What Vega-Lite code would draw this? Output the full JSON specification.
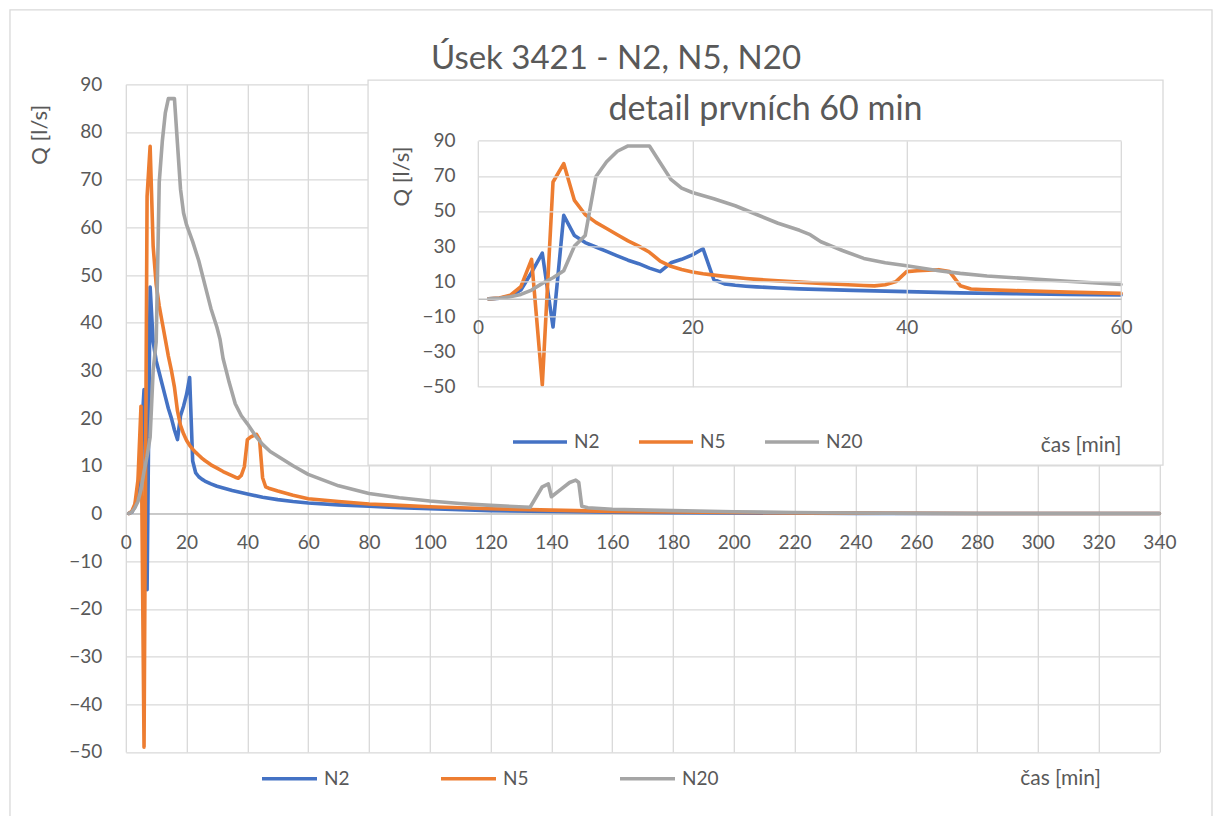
{
  "$schema": "https://vega.github.io/schema/vega-lite/v6.json",
  "width": 1033.6,
  "height": 667.6,
  "autosize": {"type": "none"},
  "padding": {"left": 125.8, "top": 84.3, "right": 59.6, "bottom": 64.1},
  "background": "white",
  "title": {"text": "Úsek 3421 - N2, N5, N20", "font": "Lato", "fontSize": 33, "fontWeight": "normal", "color": "#595959", "anchor": "middle", "dx": -26.6, "offset": 0, "dy": 93, "baseline": "alphabetic"},
  "config": {"view": {"stroke": null}, "font": "Lato"},
  "datasets": {
    "q": [
      {"t":1,"s":"N2","q":0},{"t":2,"s":"N2","q":0.3},{"t":3,"s":"N2","q":1.5},{"t":4,"s":"N2","q":5},{"t":5,"s":"N2","q":15},{"t":6,"s":"N2","q":26},{"t":7,"s":"N2","q":-16},{"t":8,"s":"N2","q":47.5},{"t":9,"s":"N2","q":36},{"t":10,"s":"N2","q":32},{"t":11,"s":"N2","q":29.5},{"t":12,"s":"N2","q":27},{"t":13,"s":"N2","q":24.5},{"t":14,"s":"N2","q":22},{"t":15,"s":"N2","q":20},{"t":16,"s":"N2","q":17.5},{"t":17,"s":"N2","q":15.5},{"t":18,"s":"N2","q":20.5},{"t":19,"s":"N2","q":22.5},{"t":20,"s":"N2","q":25},{"t":21,"s":"N2","q":28.5},{"t":22,"s":"N2","q":11},{"t":23,"s":"N2","q":8.5},{"t":24,"s":"N2","q":7.7},{"t":25,"s":"N2","q":7.2},{"t":26,"s":"N2","q":6.8},{"t":28,"s":"N2","q":6.2},{"t":30,"s":"N2","q":5.7},{"t":35,"s":"N2","q":4.8},{"t":40,"s":"N2","q":4.1},{"t":45,"s":"N2","q":3.4},{"t":50,"s":"N2","q":2.9},{"t":55,"s":"N2","q":2.5},{"t":60,"s":"N2","q":2.2},{"t":70,"s":"N2","q":1.8},{"t":80,"s":"N2","q":1.5},{"t":90,"s":"N2","q":1.2},{"t":100,"s":"N2","q":1.0},{"t":120,"s":"N2","q":0.6},{"t":140,"s":"N2","q":0.4},{"t":160,"s":"N2","q":0.25},{"t":180,"s":"N2","q":0.15},{"t":200,"s":"N2","q":0.1},{"t":240,"s":"N2","q":0.03},{"t":280,"s":"N2","q":0},{"t":340,"s":"N2","q":0},
      {"t":1,"s":"N5","q":0},{"t":2,"s":"N5","q":0.5},{"t":3,"s":"N5","q":2},{"t":4,"s":"N5","q":7},{"t":5,"s":"N5","q":22.5},{"t":6,"s":"N5","q":-49},{"t":7,"s":"N5","q":66.5},{"t":8,"s":"N5","q":77},{"t":9,"s":"N5","q":56},{"t":10,"s":"N5","q":48},{"t":11,"s":"N5","q":43.5},{"t":12,"s":"N5","q":40},{"t":13,"s":"N5","q":36.5},{"t":14,"s":"N5","q":33},{"t":15,"s":"N5","q":30},{"t":16,"s":"N5","q":26.5},{"t":17,"s":"N5","q":21.5},{"t":18,"s":"N5","q":18.5},{"t":19,"s":"N5","q":16.7},{"t":20,"s":"N5","q":15.3},{"t":21,"s":"N5","q":14.3},{"t":22,"s":"N5","q":13.5},{"t":23,"s":"N5","q":12.8},{"t":24,"s":"N5","q":12.2},{"t":25,"s":"N5","q":11.6},{"t":26,"s":"N5","q":11.1},{"t":28,"s":"N5","q":10.2},{"t":30,"s":"N5","q":9.5},{"t":32,"s":"N5","q":8.8},{"t":34,"s":"N5","q":8.2},{"t":36,"s":"N5","q":7.6},{"t":37,"s":"N5","q":7.4},{"t":38,"s":"N5","q":8},{"t":39,"s":"N5","q":9.8},{"t":40,"s":"N5","q":15.5},{"t":41,"s":"N5","q":16},{"t":42,"s":"N5","q":16.3},{"t":43,"s":"N5","q":16.6},{"t":44,"s":"N5","q":15.5},{"t":45,"s":"N5","q":7.5},{"t":46,"s":"N5","q":5.6},{"t":47,"s":"N5","q":5.3},{"t":50,"s":"N5","q":4.7},{"t":55,"s":"N5","q":3.8},{"t":60,"s":"N5","q":3.1},{"t":70,"s":"N5","q":2.5},{"t":80,"s":"N5","q":2},{"t":90,"s":"N5","q":1.7},{"t":100,"s":"N5","q":1.4},{"t":120,"s":"N5","q":1.0},{"t":140,"s":"N5","q":0.7},{"t":160,"s":"N5","q":0.45},{"t":180,"s":"N5","q":0.3},{"t":200,"s":"N5","q":0.2},{"t":220,"s":"N5","q":0.12},{"t":250,"s":"N5","q":0.05},{"t":280,"s":"N5","q":0},{"t":340,"s":"N5","q":0},
      {"t":1,"s":"N20","q":0},{"t":2,"s":"N20","q":0.3},{"t":3,"s":"N20","q":1.2},{"t":4,"s":"N20","q":2.5},{"t":5,"s":"N20","q":5},{"t":6,"s":"N20","q":8.8},{"t":7,"s":"N20","q":12},{"t":8,"s":"N20","q":16},{"t":9,"s":"N20","q":30},{"t":10,"s":"N20","q":36},{"t":11,"s":"N20","q":69.5},{"t":12,"s":"N20","q":78},{"t":13,"s":"N20","q":84},{"t":14,"s":"N20","q":87},{"t":15,"s":"N20","q":87},{"t":16,"s":"N20","q":87},{"t":17,"s":"N20","q":77.5},{"t":18,"s":"N20","q":68},{"t":19,"s":"N20","q":63},{"t":20,"s":"N20","q":60.5},{"t":22,"s":"N20","q":57},{"t":24,"s":"N20","q":53},{"t":26,"s":"N20","q":48},{"t":28,"s":"N20","q":43},{"t":30,"s":"N20","q":39},{"t":31,"s":"N20","q":36.5},{"t":32,"s":"N20","q":32.5},{"t":33,"s":"N20","q":30},{"t":34,"s":"N20","q":27.5},{"t":36,"s":"N20","q":23},{"t":38,"s":"N20","q":20.5},{"t":40,"s":"N20","q":18.8},{"t":43,"s":"N20","q":16},{"t":45,"s":"N20","q":14.5},{"t":47.5,"s":"N20","q":13},{"t":50,"s":"N20","q":12},{"t":55,"s":"N20","q":10},{"t":60,"s":"N20","q":8.2},{"t":70,"s":"N20","q":5.8},{"t":80,"s":"N20","q":4.2},{"t":90,"s":"N20","q":3.3},{"t":100,"s":"N20","q":2.6},{"t":110,"s":"N20","q":2.1},{"t":120,"s":"N20","q":1.7},{"t":133,"s":"N20","q":1.3},{"t":137,"s":"N20","q":5.6},{"t":139,"s":"N20","q":6.2},{"t":140,"s":"N20","q":3.5},{"t":143,"s":"N20","q":5},{"t":146,"s":"N20","q":6.5},{"t":148,"s":"N20","q":7},{"t":149,"s":"N20","q":6.5},{"t":150,"s":"N20","q":1.5},{"t":152,"s":"N20","q":1.2},{"t":160,"s":"N20","q":0.9},{"t":180,"s":"N20","q":0.6},{"t":200,"s":"N20","q":0.35},{"t":220,"s":"N20","q":0.2},{"t":250,"s":"N20","q":0.05},{"t":280,"s":"N20","q":0},{"t":340,"s":"N20","q":0}
    ]
  },
  "layer": [
    {
      "data": {"values": [{}]},
      "mark": {"type": "rect", "fill": null, "stroke": "#D9D9D9", "strokeWidth": 1.3},
      "encoding": {
        "x": {"datum": -38.1, "type": "quantitative", "scale": {"domain": [0, 340], "nice": false, "zero": false},
          "axis": {"orient": "bottom", "values": [0,20,40,60,80,100,120,140,160,180,200,220,240,260,280,300,320,340], "grid": false, "domain": true, "domainColor": "#BFBFBF", "domainWidth": 1.5, "ticks": false, "offset": -238.43, "labelFlush": false, "labelOverlap": false, "labelFont": "Lato", "labelFontSize": 19, "labelColor": "#595959", "labelPadding": 20,
            "title": "čas [min]", "titleFont": "Lato", "titleFontSize": 21, "titleFontWeight": "normal", "titleColor": "#595959", "titleX": 934.2, "titleY": 264.7, "titleAlign": "center", "titleBaseline": "middle", "titleAngle": 0}},
        "x2": {"datum": 357.3},
        "y": {"datum": 105.6, "type": "quantitative", "scale": {"domain": [-50, 90], "nice": false, "zero": false}, "axis": null},
        "y2": {"datum": -66.4}
      }
    },
    {
      "data": {"name": "q"},
      "mark": {"type": "line", "strokeWidth": 3.6, "strokeJoin": "round", "strokeCap": "round"},
      "encoding": {
        "x": {"field": "t", "type": "quantitative", "scale": {"domain": [0, 340], "nice": false, "zero": false},
          "axis": {"orient": "bottom", "values": [0,20,40,60,80,100,120,140,160,180,200,220,240,260,280,300,320,340], "grid": true, "gridColor": "#D9D9D9", "gridWidth": 1.3, "domain": false, "ticks": false, "labels": false, "title": null}},
        "y": {"field": "q", "type": "quantitative", "scale": {"domain": [-50, 90], "nice": false, "zero": false},
          "axis": {"orient": "left", "values": [-50,-40,-30,-20,-10,0,10,20,30,40,50,60,70,80,90], "grid": true, "gridColor": "#D9D9D9", "gridWidth": 1.3, "domain": false, "ticks": false, "labelFlush": false, "labelOverlap": false, "labelFont": "Lato", "labelFontSize": 19, "labelColor": "#595959", "labelPadding": 24,
            "title": "Q [l/s]", "titleFont": "Lato", "titleFontSize": 22, "titleFontWeight": "normal", "titleColor": "#595959", "titleX": -86.8, "titleY": 50, "titleAlign": "center", "titleBaseline": "middle", "titleAngle": 270}},
        "color": {"field": "s", "type": "nominal", "scale": {"domain": ["N2", "N5", "N20"], "range": ["#4472C4", "#ED7D31", "#A5A5A5"]},
          "legend": {"orient": "none", "legendX": 134.2, "legendY": 664.7, "direction": "horizontal", "title": null, "symbolType": "stroke", "symbolSize": 3025, "symbolStrokeWidth": 3.6, "labelFont": "Lato", "labelFontSize": 19, "labelColor": "#595959", "columnPadding": 83, "labelOffset": 5, "padding": 0}}
      }
    },
    {
      "data": {"values": [{}]},
      "mark": {"type": "rect", "fill": "white", "stroke": "#D9D9D9", "strokeWidth": 1.3},
      "encoding": {
        "x": {"datum": -10.26, "type": "quantitative", "scale": {"domain": [0, 60], "range": [352.2, 995.2], "nice": false, "zero": false},
          "axis": {"orient": "bottom", "zindex": 1, "values": [0, 20, 40, 60], "grid": false, "domain": true, "domainColor": "#BFBFBF", "domainWidth": 1.5, "ticks": false, "offset": -453.06, "labelFlush": false, "labelOverlap": false, "labelFont": "Lato", "labelFontSize": 19, "labelColor": "#595959", "labelPadding": 20,
            "title": "čas [min]", "titleFont": "Lato", "titleFontSize": 21, "titleFontWeight": "normal", "titleColor": "#595959", "titleX": 954.7, "titleY": 146.2, "titleAlign": "center", "titleBaseline": "middle", "titleAngle": 0}},
        "x2": {"datum": 63.92},
        "y": {"datum": 124.5, "type": "quantitative", "scale": {"domain": [-50, 90], "range": [302.4, 56.4], "nice": false, "zero": false},
          "axis": {"orient": "left", "zindex": 1, "values": [-50, -30, -10, 10, 30, 50, 70, 90], "grid": false, "domain": false, "ticks": false, "offset": -352.2, "labelFlush": false, "labelOverlap": false, "labelFont": "Lato", "labelFontSize": 19, "labelColor": "#595959", "labelPadding": 23,
            "title": "Q [l/s]", "titleFont": "Lato", "titleFontSize": 22, "titleFontWeight": "normal", "titleColor": "#595959", "titleX": -76.3, "titleY": 91.7, "titleAlign": "center", "titleBaseline": "middle", "titleAngle": 270}},
        "y2": {"datum": -94.6}
      }
    },
    {
      "data": {"name": "q"},
      "transform": [{"filter": "datum.t <= 60"}],
      "mark": {"type": "line", "strokeWidth": 3.6, "strokeJoin": "round", "strokeCap": "round", "clip": true},
      "encoding": {
        "x": {"field": "t", "type": "quantitative", "scale": {"domain": [0, 60], "range": [352.2, 995.2], "nice": false, "zero": false},
          "axis": {"orient": "top", "zindex": 1, "values": [0, 20, 40, 60], "grid": true, "gridColor": "#D9D9D9", "gridWidth": 1.3, "domain": false, "ticks": false, "labels": false, "title": null}},
        "y": {"field": "q", "type": "quantitative", "scale": {"domain": [-50, 90], "range": [302.4, 56.4], "nice": false, "zero": false},
          "axis": {"orient": "left", "zindex": 1, "values": [-50, -30, -10, 10, 30, 50, 70, 90], "grid": true, "gridColor": "#D9D9D9", "gridWidth": 1.3, "domain": false, "ticks": false, "labels": false, "title": null}},
        "color": {"field": "s", "type": "nominal", "scale": {"domain": ["N2", "N5", "N20"], "range": ["#4472C4", "#ED7D31", "#A5A5A5"]},
          "legend": {"orient": "none", "legendX": 385.2, "legendY": 328.7, "direction": "horizontal", "title": null, "symbolType": "stroke", "symbolSize": 2916, "symbolStrokeWidth": 3.6, "labelFont": "Lato", "labelFontSize": 19, "labelColor": "#595959", "columnPadding": 31, "labelOffset": 5, "padding": 0}}
      }
    },
    {
      "data": {"values": [{}]},
      "mark": {"type": "text", "font": "Lato", "fontSize": 34, "color": "#595959", "align": "center", "baseline": "middle"},
      "encoding": {
        "x": {"datum": 26.83, "type": "quantitative", "scale": {"domain": [0, 60], "range": [352.2, 995.2], "nice": false, "zero": false}, "axis": null},
        "y": {"datum": 107.47, "type": "quantitative", "scale": {"domain": [-50, 90], "range": [302.4, 56.4], "nice": false, "zero": false}, "axis": null},
        "text": {"value": "detail prvních 60 min"}
      }
    }
  ],
  "resolve": {
    "scale": {"x": "independent", "y": "independent", "color": "independent"},
    "axis": {"x": "independent", "y": "independent"},
    "legend": {"color": "independent"}
  }
}
